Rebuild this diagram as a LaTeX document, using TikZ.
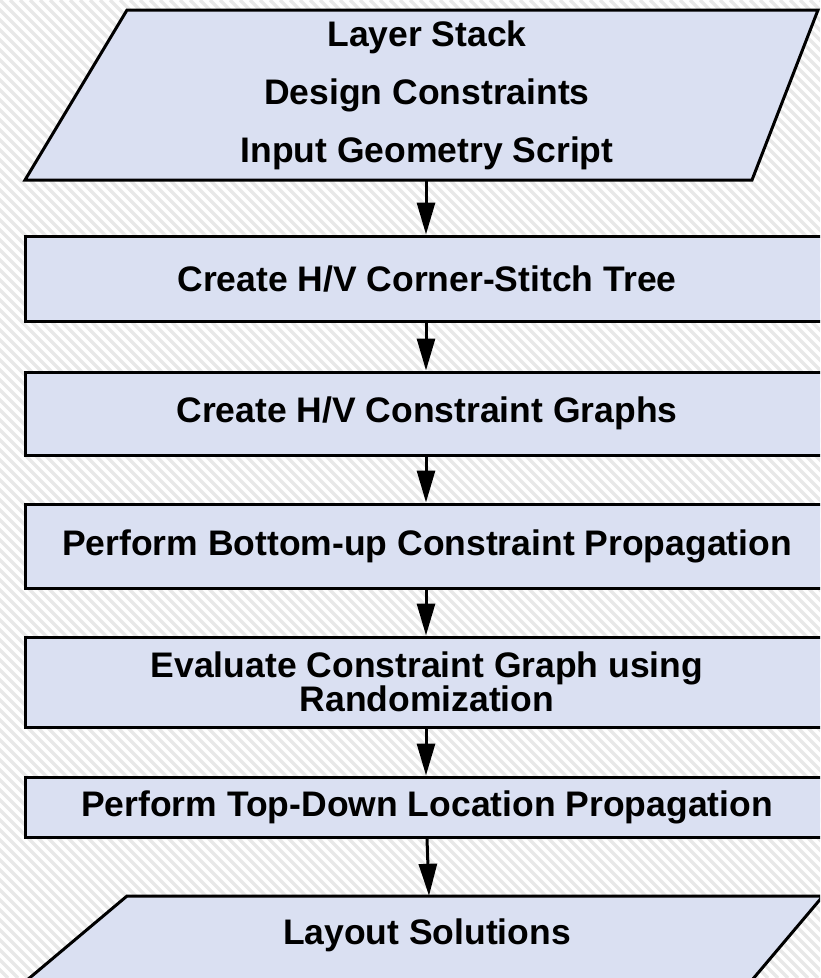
\documentclass[tikz,border=0pt]{standalone}
\usepackage{fontspec}
\setmainfont{Liberation Sans}
\usetikzlibrary{arrows.meta}
\definecolor{boxfill}{RGB}{218,224,242}
\definecolor{stripe}{RGB}{232,232,232}
\begin{document}
\begin{tikzpicture}[x=1pt,y=-1pt,
  stepbox/.style={draw=black, line width=3pt, fill=boxfill, minimum width=804pt,
    inner sep=0pt, font=\bfseries\fontsize{35.5}{34}\selectfont, align=center},
  iotext/.style={inner sep=0pt, font=\bfseries\fontsize{35.5}{58}\selectfont, align=center},
  ioshape/.style={draw=black, line width=3pt, fill=boxfill, line join=miter},
  arr/.style={line width=3pt, -{Triangle[length=32pt,width=18pt]}}]
\useasboundingbox (0,0) rectangle (820,978);
\begin{scope}
\clip (0,0) rectangle (820,978);
\fill[white] (0,0) rectangle (820,978);
\foreach \i in {-1000,-990,...,820} \draw[stripe, line width=3.5pt] (\i,0) -- (\i+978,978);
% input parallelogram
\draw[ioshape] (127,10) -- (818,10) -- (752,180) -- (25,180) -- cycle;
\node[iotext, minimum height=170pt] (in) at (427,95) {Layer Stack\\Design Constraints\\Input Geometry Script};
% process boxes
\node[stepbox, minimum height=85pt] (b1) at (427,278.5) {Create H/V Corner-Stitch Tree};
\node[stepbox, minimum height=83pt] (b2) at (427,413.5) {Create H/V Constraint Graphs};
\node[stepbox, minimum height=84pt] (b3) at (427,546) {Perform Bottom-up Constraint Propagation};
\node[stepbox, minimum height=90pt] (b4) at (427,682) {Evaluate Constraint Graph using\\Randomization};
\node[stepbox, minimum height=60pt] (b5) at (427,807) {Perform Top-Down Location Propagation};
% output parallelogram
\draw[ioshape] (127,896) -- (823,896) -- (747,986) -- (20,986) -- cycle;
\node[iotext, minimum height=78pt] (out) at (427,935) {Layout Solutions};
% connectors
\draw[arr] ([xshift=-1pt]in.south) -- ([xshift=-1pt]b1.north);
\draw[arr] ([xshift=-1pt]b1.south) -- ([xshift=-1pt]b2.north);
\draw[arr] ([xshift=-1pt]b2.south) -- ([xshift=-1pt]b3.north);
\draw[arr] ([xshift=-1pt]b3.south) -- ([xshift=-1pt]b4.north);
\draw[arr] ([xshift=-1pt]b4.south) -- ([xshift=-1pt]b5.north);
\draw[arr] (b5.south) -- ([xshift=2pt]out.north);
\end{scope}
\end{tikzpicture}
\end{document}
